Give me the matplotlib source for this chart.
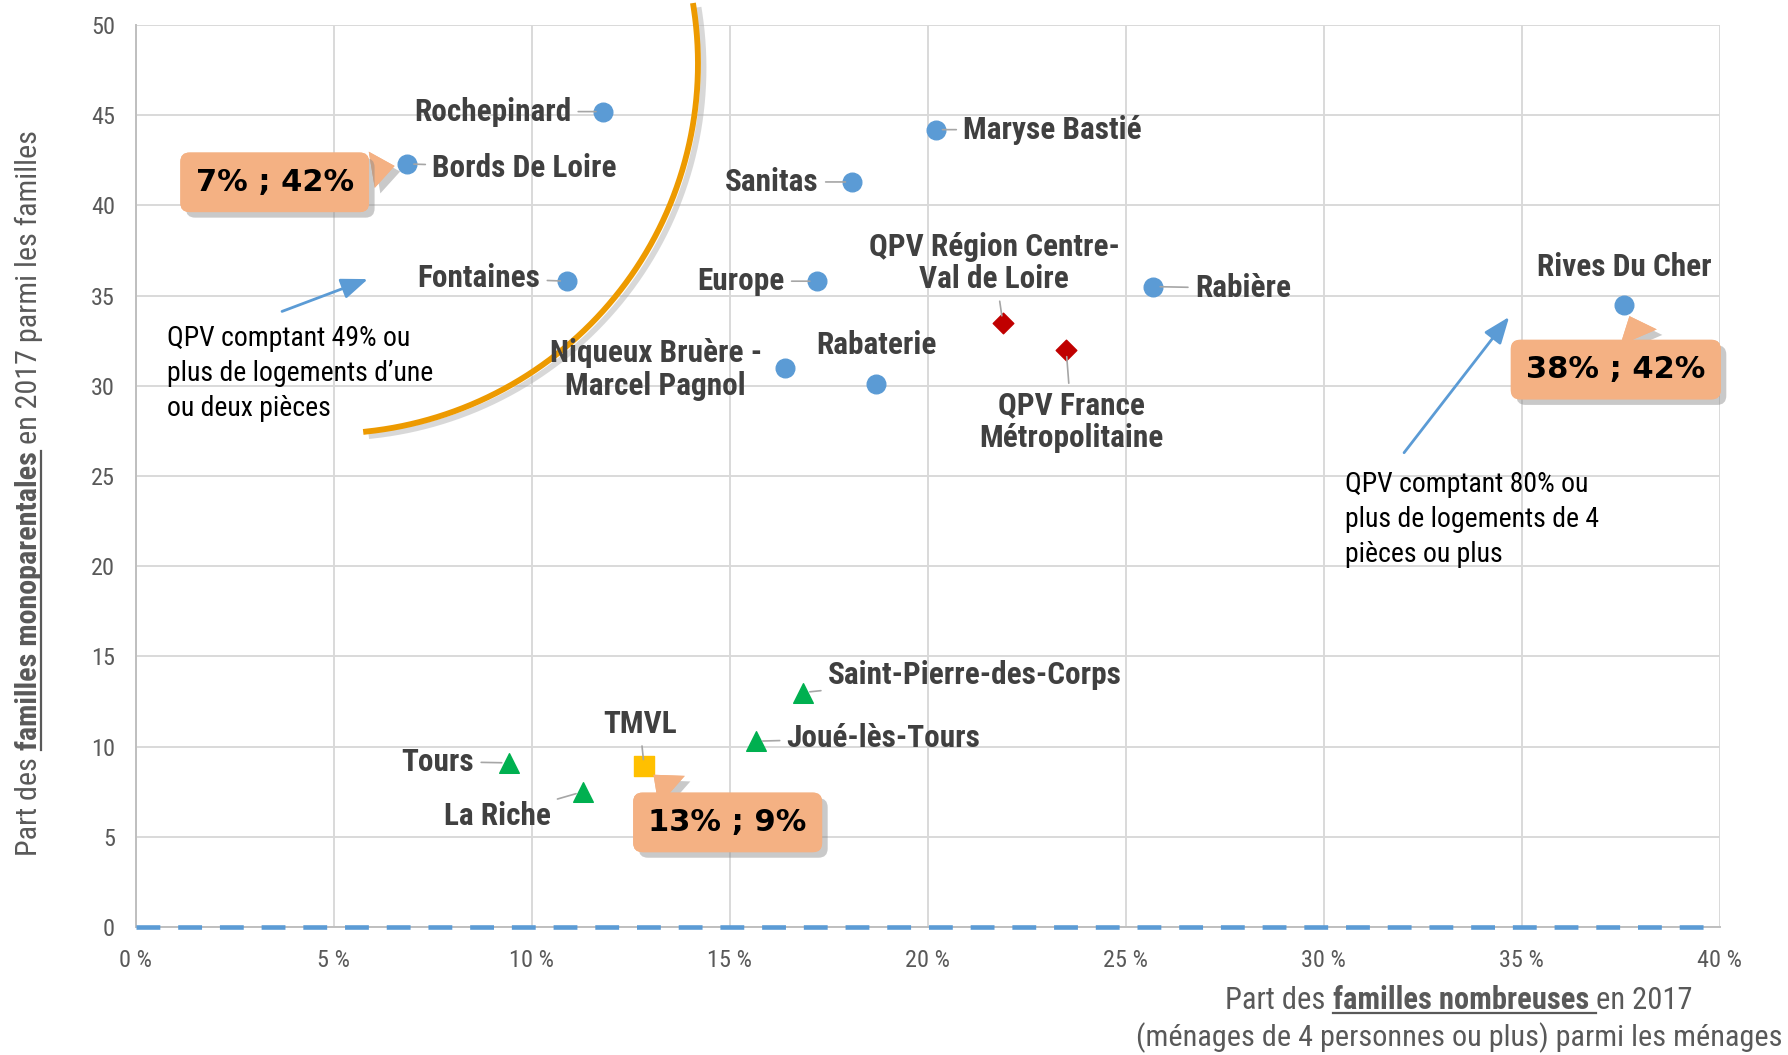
import numpy as np
import matplotlib
matplotlib.use('Agg')
import matplotlib.pyplot as plt
import matplotlib.patheffects as pe
from matplotlib import font_manager as fm
from matplotlib.transforms import IdentityTransform
from matplotlib.lines import Line2D

# --- data ---
qpv_names = ["Rochepinard", "Bords De Loire", "Maryse Bastié", "Sanitas", "Fontaines",
             "Europe", "Rabière", "Rives Du Cher", "Niqueux Bruère -\nMarcel Pagnol", "Rabaterie"]
qpv_x = [11.8, 6.85, 20.2, 18.1, 10.9, 17.2, 25.7, 37.6, 16.4, 18.7]
qpv_y = [45.2, 42.3, 44.2, 41.3, 35.8, 35.8, 35.5, 34.5, 31.0, 30.1]

ref_names = ["QPV Région Centre-\nVal de Loire", "QPV France\nMétropolitaine"]
ref_x = [21.9, 23.5]
ref_y = [33.5, 32.0]

com_names = ["Saint-Pierre-des-Corps", "Joué-lès-Tours", "Tours", "La Riche"]
com_x = [16.85, 15.66, 9.42, 11.29]
com_y = [13.0, 10.3, 9.1, 7.5]

tmvl_names = ["TMVL"]
tmvl_x = [12.84]
tmvl_y = [8.9]

base_x = [0, 40]
base_y = [0, 0]

x_ticks = [0, 5, 10, 15, 20, 25, 30, 35, 40]
y_ticks = [0, 5, 10, 15, 20, 25, 30, 35, 40, 45, 50]

# --- fonts / colours ---
# pick a narrow sans close to Arial Narrow, needs regular and bold
fonts = {}
for f in fm.fontManager.ttflist:
    fonts.setdefault(f.name, set()).add(int(f.weight) if str(f.weight).isdigit() else 400)
NARROW = 'Liberation Sans'
for cand in ['Liberation Sans Narrow', 'Roboto Condensed', 'Archivo Narrow', 'PT Sans Narrow',
             'IBM Plex Sans Condensed', 'Encode Sans Condensed', 'Sofia Sans Condensed']:
    if cand in fonts and 400 in fonts[cand] and any(w >= 700 for w in fonts[cand]):
        NARROW = cand
        break

GREY = '#595959'
LABEL = '#404040'
BLUE = '#5B9BD5'
ORANGE_BOX = '#F4B183'

fig = plt.figure(figsize=(17.88, 10.55), dpi=100)
ax = fig.add_axes([0.0759, 0.1213, 0.8858, 0.8550])
ax.set_xlim(0, 40)
ax.set_ylim(0, 50)

ax.set_xticks(x_ticks)
ax.set_xticklabels([f"{v} %" for v in x_ticks])
ax.set_yticks(y_ticks)
ax.grid(True, color='#D9D9D9', lw=1.4)
ax.set_axisbelow(True)
for s in ['top', 'right']:
    ax.spines[s].set_visible(False)
for s in ['left', 'bottom']:
    ax.spines[s].set_color('#BFBFBF')
    ax.spines[s].set_linewidth(1.4)
ax.tick_params(length=0, labelsize=17.5, labelcolor=GREY)
ax.tick_params(axis='x', pad=16)
ax.tick_params(axis='y', pad=15)
for t in ax.get_xticklabels() + ax.get_yticklabels():
    t.set_family(NARROW)

# dashed series along zero
ax.plot(base_x, base_y, color=BLUE, lw=3.3, dashes=(5.2, 3.9), clip_on=False, zorder=3)

# points
ax.scatter(qpv_x, qpv_y, s=180, color=BLUE, zorder=4)
ax.scatter(ref_x, ref_y, s=110, marker='D', color='#C00000', zorder=4)
ax.scatter(com_x, com_y, s=200, marker='^', color='#00B050', zorder=4)
ax.scatter(tmvl_x, tmvl_y, s=190, marker='s', color='#FFC000', zorder=4)

# label offsets (data units) and alignment, leader line or not
qpv_lab = [(-0.8, 0, 'right', True), (0.64, -0.2, 'left', True), (0.7, 0, 'left', True),
           (-0.85, 0, 'right', True), (-0.68, 0.17, 'right', True), (-0.81, 0, 'right', True),
           (1.05, -0.1, 'left', True), (0, 2.1, 'center', False), (-3.27, -0.1, 'center', False),
           (0, 2.14, 'center', False)]
ref_lab = [(-0.22, 3.3, 'center', True), (0.14, -3.97, 'center', True)]
com_lab = [(0.63, 0.97, 'left', True), (0.78, 0.19, 'left', True), (-0.87, 0.07, 'right', True),
           (-0.81, -1.37, 'right', True)]
tmvl_lab = [(-0.11, 2.35, 'center', True)]

def label_points(nms, xs, ys, lays):
    for n, x, y, (dx, dy, ha, lead) in zip(nms, xs, ys, lays):
        ap = dict(arrowstyle='-', color='#A6A6A6', lw=1.2, shrinkA=3, shrinkB=5) if lead else None
        ax.annotate(n, xy=(x, y), xytext=(x + dx, y + dy), textcoords='data', ha=ha, va='center',
                    multialignment='center', fontsize=22.5, fontweight='bold', family=NARROW,
                    color=LABEL, linespacing=1.1, arrowprops=ap, zorder=5)

label_points(qpv_names, qpv_x, qpv_y, qpv_lab)
label_points(ref_names, ref_x, ref_y, ref_lab)
label_points(com_names, com_x, com_y, com_lab)
label_points(tmvl_names, tmvl_x, tmvl_y, tmvl_lab)

# orange arc
th = np.radians(np.linspace(-84, 9, 200))
arc_x = 4.84 + 9.36 * np.cos(th)
arc_y = 47.85 + 20.5 * np.sin(th)
ax.plot(arc_x, arc_y, color='#ED9A00', lw=4.2, clip_on=False, zorder=3,
        path_effects=[pe.SimpleLineShadow(offset=(4, -3), shadow_color='#AAAAAA', alpha=0.45), pe.Normal()])

# callouts
shadow = [pe.withSimplePatchShadow(offset=(4, -4), shadow_rgbFace='#888888', alpha=0.45)]
callouts = [("7% ; 42%", (6.85, 42.3), (3.51, 41.28), (0.88, 0.72), 1.2),
            ("38% ; 42%", (37.6, 34.5), (37.38, 30.9), (0.68, 0.85), 1.3),
            ("13% ; 9%", (12.84, 8.9), (14.95, 5.8), (0.3, 0.85), 1.3)]
for txt, pt, pos, rel, tw in callouts:
    a = ax.annotate(txt, xy=pt, xytext=pos, textcoords='data', ha='center', va='center',
                    fontsize=22, fontweight='bold', color='black', zorder=6,
                    bbox=dict(boxstyle='round,pad=0.5,rounding_size=0.3', fc=ORANGE_BOX, ec='none'),
                    arrowprops=dict(arrowstyle=f'wedge,tail_width={tw},shrink_factor=0.5',
                                    fc=ORANGE_BOX, ec='none', relpos=rel, shrinkB=9))
    a.get_bbox_patch().set_path_effects(shadow + [pe.Normal()])
    a.arrow_patch.set_path_effects(shadow + [pe.Normal()])

# side notes with blue arrows
ax.text(0.78, 30.7, "QPV comptant 49% ou\nplus de logements d’une\nou deux pièces", ha='left', va='center',
        fontsize=20, family=NARROW, color='black', linespacing=1.38, zorder=5)
ax.text(30.55, 22.6, "QPV comptant 80% ou\nplus de logements de 4\npièces ou plus", ha='left', va='center',
        fontsize=20, family=NARROW, color='black', linespacing=1.38, zorder=5)
ax.annotate("", xy=(5.93, 35.97), xytext=(3.63, 34.07),
            arrowprops=dict(arrowstyle='-|>,head_length=0.9,head_width=0.35', color=BLUE, lw=2, mutation_scale=18))
ax.annotate("", xy=(34.73, 33.94), xytext=(31.99, 26.17),
            arrowprops=dict(arrowstyle='-|>,head_length=0.9,head_width=0.35', color=BLUE, lw=2, mutation_scale=18))

# axis titles with bold + underlined part
renderer = fig.canvas.get_renderer()

def rich(parts, cx, cy, vertical=False, size=22):
    px = size * fig.dpi / 72
    gap = 0.23 * px
    objs = []
    for txt, bold in parts:
        t = fig.text(0, 0, txt, transform=IdentityTransform(), fontsize=size, family=NARROW,
                     fontweight='bold' if bold else 'normal', color=GREY,
                     rotation=90 if vertical else 0, rotation_mode='anchor', ha='left', va='baseline')
        ext = t.get_window_extent(renderer)
        objs.append((t, ext.height if vertical else ext.width, bold))
    total = sum(o[1] for o in objs) + gap * (len(objs) - 1)
    pos = (cy if vertical else cx) - total / 2
    for t, w, bold in objs:
        if vertical:
            t.set_position((cx, pos))
            if bold:
                fig.add_artist(Line2D([cx + 0.13 * px] * 2, [pos, pos + w], transform=IdentityTransform(),
                                      color=GREY, lw=1.6))
        else:
            t.set_position((pos, cy))
            if bold:
                fig.add_artist(Line2D([pos, pos + w + gap], [cy - 0.13 * px] * 2, transform=IdentityTransform(),
                                      color=GREY, lw=1.6))
        pos += w + gap

H = 1055
rich([("Part des", False), ("familles monoparentales", True), ("en 2017 parmi les familles", False)],
     37, H - 493, vertical=True, size=21.7)
rich([("Part des", False), ("familles nombreuses", True), ("en 2017", False)], 1459, H - 1009, size=22)
fig.text(1459, H - 1046, "(ménages de 4 personnes ou plus) parmi les ménages", transform=IdentityTransform(),
         fontsize=21.8, family=NARROW, color=GREY, ha='center', va='baseline')

fig.savefig('out.png', dpi=100, facecolor='white')
